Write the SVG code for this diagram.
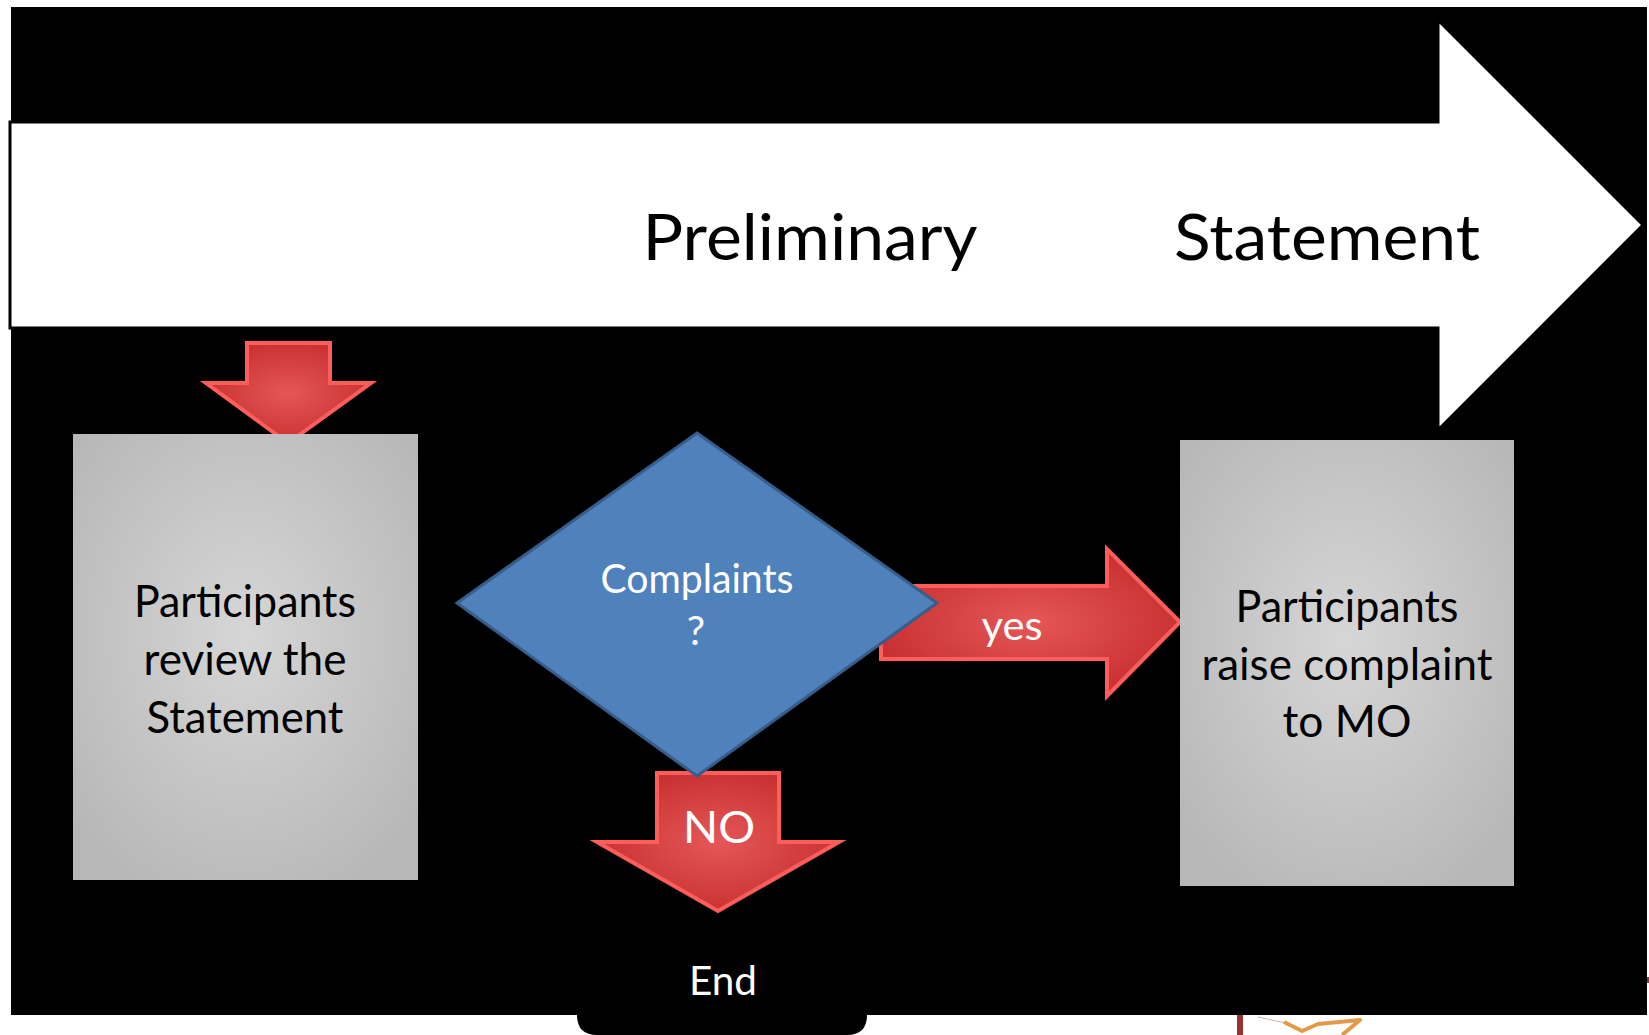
<svg xmlns="http://www.w3.org/2000/svg" width="1649" height="1035" viewBox="0 0 1649 1035">
<style>
  .t { font-family: Lato, "Open Sans", "Liberation Sans", sans-serif; text-anchor: middle; }
  .dark { fill: #000000; }
  .light { fill: #ffffff; }
  .big { font-size: 64px; }
  .mid { font-size: 44px; }
  .sm { font-size: 41px; }
  .red { fill: url(#redGrad); stroke: #ff5c5c; stroke-width: 4; stroke-linejoin: miter; }
  .box { fill: url(#greyGrad); }
</style>
<defs>
  <radialGradient id="redGrad" cx="50%" cy="50%" r="60%">
    <stop offset="0" stop-color="#e55757"/>
    <stop offset="1" stop-color="#c42b2b"/>
  </radialGradient>
  <radialGradient id="greyGrad" cx="50%" cy="45%" r="65%">
    <stop offset="0" stop-color="#d6d6d6"/>
    <stop offset="1" stop-color="#b7b7b7"/>
  </radialGradient>
</defs>

<rect x="0" y="0" width="1649" height="1035" fill="#ffffff"/>
<g id="background">
  <rect x="11" y="7" width="1636" height="1008" fill="#000000"/>
  <path d="M577 1000 L867 1000 L867 1015 Q867 1035 847 1035 L597 1035 Q577 1035 577 1015 Z" fill="#000000"/>
  <rect x="1237" y="1015" width="6" height="20" fill="#993333"/>
  <rect x="1647" y="977" width="2" height="6" fill="#993333"/>
  <polyline points="1258,1017 1290,1024" fill="none" stroke="#c9b7a0" stroke-width="1"/>
  <polyline points="1284,1022 1302,1031 1318,1024 1360,1020 1342,1035" fill="none" stroke="#e39a48" stroke-width="4" stroke-linejoin="round"/>
</g>

<g id="phase-arrow">
  <path d="M10 122 L1438 122 L1438 20 L1643 225 L1438 430 L1438 328 L10 328 Z" fill="#ffffff" stroke="#000000" stroke-width="3"/>
  <text class="t dark big" x="810" y="260" textLength="335" lengthAdjust="spacingAndGlyphs">Preliminary</text>
  <text class="t dark big" x="1327" y="260" textLength="306" lengthAdjust="spacingAndGlyphs">Statement</text>
</g>

<g id="connectors">
  <path class="red" d="M247 343 L330 343 L330 383 L371 383 L288 443 L206 383 L247 383 Z"/>
  <path class="red" d="M881 586 L1107 586 L1107 549 L1180 622 L1107 696 L1107 659 L881 659 Z"/>
  <text class="t light sm" x="1012" y="640" textLength="61" lengthAdjust="spacingAndGlyphs">yes</text>
  <path class="red" d="M657 773 L779 773 L779 842 L839 842 L718 911 L597 842 L657 842 Z"/>
  <text class="t light mid" x="719" y="843" textLength="72" lengthAdjust="spacingAndGlyphs">NO</text>
</g>

<g id="review-box">
  <rect class="box" x="73" y="434" width="345" height="446"/>
  <text class="t dark mid" x="245" y="617" textLength="222" lengthAdjust="spacingAndGlyphs">Participants</text>
  <text class="t dark mid" x="245" y="675" textLength="203" lengthAdjust="spacingAndGlyphs">review the</text>
  <text class="t dark mid" x="245" y="733" textLength="197" lengthAdjust="spacingAndGlyphs">Statement</text>
</g>

<g id="raise-box">
  <rect class="box" x="1180" y="440" width="334" height="446"/>
  <text class="t dark mid" x="1347" y="622" textLength="223" lengthAdjust="spacingAndGlyphs">Participants</text>
  <text class="t dark mid" x="1347" y="680" textLength="291" lengthAdjust="spacingAndGlyphs">raise complaint</text>
  <text class="t dark mid" x="1347" y="737" textLength="129" lengthAdjust="spacingAndGlyphs">to MO</text>
</g>

<g id="decision">
  <path d="M697 433 L937 603 L697 776 L457 603 Z" fill="#4f81bd" stroke="#385d8a" stroke-width="3"/>
  <text class="t light sm" x="697" y="593" textLength="193" lengthAdjust="spacingAndGlyphs">Complaints</text>
  <text class="t light sm" x="696" y="645">?</text>
</g>

<g id="end">
  <text class="t light sm" x="723" y="995" textLength="68" lengthAdjust="spacingAndGlyphs">End</text>
</g>
</svg>
